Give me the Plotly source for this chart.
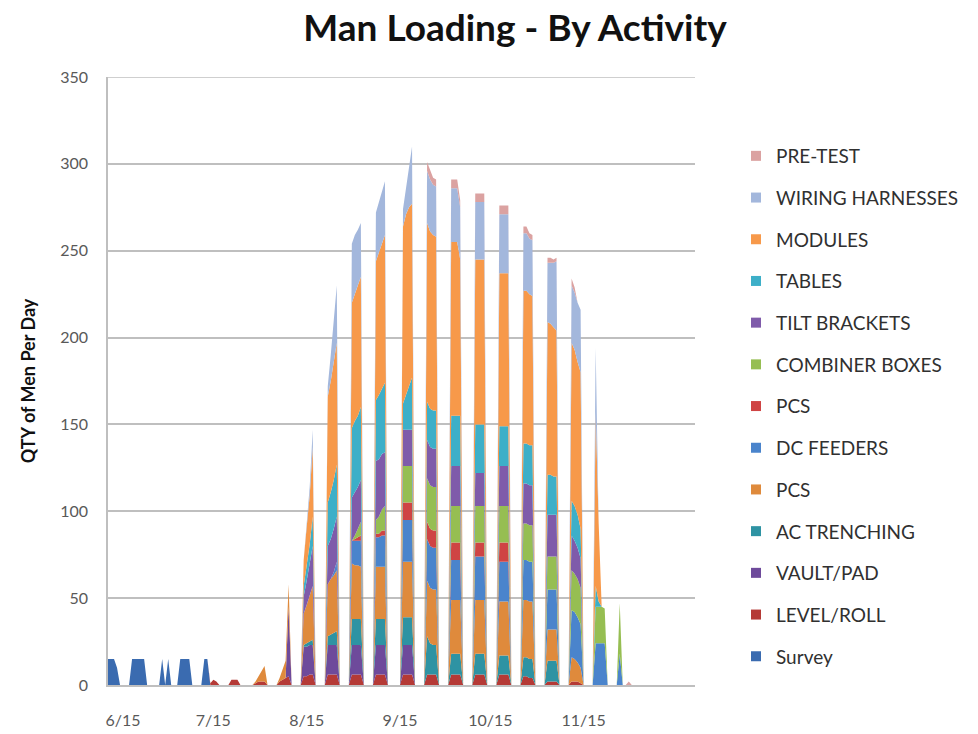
import datetime as dt
import plotly.graph_objects as go

# ---- data -------------------------------------------------------------
# work blocks: first workday and number of workdays (zero days around them)
BLOCK_START = ["2018-06-10", "2018-06-18", "2018-06-28", "2018-07-04", "2018-07-12",
               "2018-07-21", "2018-07-29", "2018-08-06", "2018-08-14", "2018-08-22",
               "2018-08-30", "2018-09-07", "2018-09-16", "2018-09-24", "2018-10-02",
               "2018-10-10", "2018-10-18", "2018-10-26", "2018-11-03", "2018-11-11",
               "2018-11-19", "2018-11-27", "2018-11-30"]
BLOCK_LEN = [4, 5, 3, 4, 5, 3, 4, 4, 4, 4, 4, 4, 4, 4, 4, 4, 4, 4, 4, 4, 4, 1, 1]

N = None
SURVEY = [[15, 15, 15, 10], [15, 15, 15, 15, 15], [15, 0, 15], [15, 15, 15, 15], [15, 15, 0, 0, 0],
          N, N, N, N, N, N, N, N, N, N, N, N, N, N, N, N, N, N]
LEVEL_ROLL = [N, N, N, N, [0, 0, 1, 3, 2], [3, 3, 3], [1, 2, 2, 2], [2, 3, 4, 5], [5, 5, 6, 6],
              [6, 6, 6, 6], [6, 6, 6, 6], [6, 6, 6, 6], [6, 6, 6, 6], [6, 6, 6, 6], [6, 6, 6, 6],
              [6, 6, 6, 6], [6, 6, 6, 6], [5, 5, 4, 4], [2, 2, 2, 2], [2, 2, 2, 1], N, N, N]
VAULT_PAD = [N, N, N, N, N, N, N, [0, 0, 0, 40], [17, 17, 17, 17], [17, 17, 17, 17],
             [17, 17, 17, 17], [17, 17, 17, 17], [17, 17, 17, 17], N, N, N, N, N, N, N, N, N, N]
AC_TRENCHING = [N, N, N, N, N, N, N, N, [1, 2, 2, 3], [5, 6, 7, 8], [15, 15, 15, 15],
                [15, 15, 15, 15], [16, 16, 16, 16], [22, 18, 17, 17], [12, 12, 12, 12],
                [12, 12, 12, 12], [11, 11, 11, 11], [11, 11, 11, 11], [12, 12, 12, 12], N, N, N, N]
PCS_1 = [N, N, N, N, N, N, [1, 3, 6, 9], [2, 6, 10, 13], [18, 22, 27, 31], [30, 32, 33, 35],
         [32, 31, 31, 30], [30, 30, 30, 30], [32, 32, 32, 32], [32, 32, 32, 32], [31, 31, 31, 31],
         [31, 31, 31, 31], [31, 31, 31, 31], [33, 33, 33, 33], [18, 18, 18, 18], [14, 13, 11, 9],
         N, N, N]
DC_FEEDERS = [N, N, N, N, N, N, N, N, N, [0, 0, 2, 5], [13, 14, 14, 15], [17, 17, 18, 18],
              [24, 24, 24, 24], [24, 24, 24, 24], [23, 23, 23, 23], [25, 25, 25, 25],
              [23, 23, 23, 23], [23, 23, 23, 23], [23, 23, 23, 23], [27, 27, 26, 25],
              [24, 24, 24, 24], [18], N]
PCS_2 = [N, N, N, N, N, N, N, N, N, N, [0, 1, 2, 3], [2, 2, 3, 3], [10, 10, 10, 10],
         [10, 10, 10, 10], [10, 10, 10, 10], [8, 8, 8, 8], [11, 11, 11, 11], N, N, N, N, N, N]
COMBINER = [N, N, N, N, N, N, N, N, N, N, [0, 2, 5, 8], [8, 10, 12, 14], [21, 21, 21, 21],
            [25, 25, 25, 25], [21, 21, 21, 21], [21, 21, 21, 21], [21, 21, 21, 21],
            [21, 21, 21, 21], [19, 19, 19, 19], [23, 22, 22, 21], [21, 21, 21, 20], [29], N]
TILT = [N, N, N, N, N, N, N, N, [10, 14, 17, 23], [22, 23, 25, 26], [25, 25, 24, 24],
        [34, 33, 32, 31], [21, 21, 21, 21], [22, 22, 22, 22], [23, 23, 23, 23], [19, 19, 19, 19],
        [23, 23, 23, 23], [23, 23, 23, 23], [24, 24, 24, 24], [20, 19, 18, 17], N, N, N]
TABLES = [N, N, N, N, N, N, N, N, [6, 9, 12, 17], [25, 27, 28, 30], [40, 41, 41, 42],
          [35, 37, 38, 40], [15, 20, 25, 30], [22, 22, 22, 22], [29, 29, 29, 29],
          [28, 28, 28, 28], [23, 23, 23, 23], [23, 23, 23, 23], [23, 23, 22, 22],
          [20, 20, 19, 17], [12, 3, 0, 0], N, N]
MODULES = [N, N, N, N, N, N, N, N, [15, 22, 28, 40], [61, 64, 67, 70], [72, 73, 74, 75],
           [80, 82, 84, 85], [102, 104, 103, 100], [103, 102, 101, 100], [100, 100, 100, 90],
           [95, 95, 95, 95], [88, 88, 88, 88], [88, 88, 87, 86], [88, 87, 86, 84],
           [91, 90, 88, 90], [100, 45, 0, 0], N, N]
WIRING = [N, N, N, N, N, N, N, N, [0, 2, 5, 10], [6, 15, 24, 33], [34, 34, 33, 31],
          [28, 29, 30, 31], [10, 15, 22, 33], [30, 30, 29, 29], [31, 31, 31, 30],
          [33, 33, 33, 33], [34, 34, 34, 34], [33, 33, 32, 32], [34, 35, 37, 40],
          [33, 33, 34, 36], [37, 0, 0, 0], N, N]
PRE_TEST = [N, N, N, N, N, N, N, N, N, N, N, N, N, [5, 5, 4, 4], [5, 5, 5, 4], [5, 5, 5, 5],
            [5, 5, 5, 5], [4, 4, 3, 3], [3, 3, 2, 2], [4, 3, 0, 0], N, N, [2]]

# bottom -> top stacking order
SERIES = [("Survey", SURVEY, "#3A6BB0"),
          ("LEVEL/ROLL", LEVEL_ROLL, "#B53A36"),
          ("VAULT/PAD", VAULT_PAD, "#6E4A9B"),
          ("AC TRENCHING", AC_TRENCHING, "#2E93A3"),
          ("PCS", PCS_1, "#DF8A3C"),
          ("DC FEEDERS", DC_FEEDERS, "#4A84CC"),
          ("PCS ", PCS_2, "#CF4444"),
          ("COMBINER BOXES", COMBINER, "#96BE52"),
          ("TILT BRACKETS", TILT, "#7F5BAA"),
          ("TABLES", TABLES, "#3DAFC8"),
          ("MODULES", MODULES, "#F7994A"),
          ("WIRING HARNESSES", WIRING, "#A3B7DC"),
          ("PRE-TEST", PRE_TEST, "#DBA2A1")]

TICK_DATES = ["2018-06-15", "2018-07-15", "2018-08-15", "2018-09-15", "2018-10-15", "2018-11-15"]
TICK_TEXT = ["6/15", "7/15", "8/15", "9/15", "10/15", "11/15"]

# ---- build a shared daily grid: zero day, workdays, zero day ----------
one = dt.timedelta(days=1)
grid = set()
for s, n in zip(BLOCK_START, BLOCK_LEN):
    d0 = dt.date.fromisoformat(s)
    for i in range(-1, n + 1):
        grid.add(d0 + i * one)
grid = sorted(grid)
pos = {d: i for i, d in enumerate(grid)}


def series_values(blocks):
    ys = [0] * len(grid)
    for s, n, vals in zip(BLOCK_START, BLOCK_LEN, blocks):
        if vals is None:
            continue
        d0 = dt.date.fromisoformat(s)
        for i, v in enumerate(vals):
            ys[pos[d0 + i * one]] = v
    return ys


fig = go.Figure()
xs = [d.isoformat() for d in grid]
for name, blocks, color in SERIES:
    fig.add_trace(go.Scatter(
        x=xs, y=series_values(blocks), name=name, stackgroup="one",
        mode="lines", line=dict(width=0, color=color), fillcolor=color,
        showlegend=False))

# legend entries (square swatches), top entry first
for k, (name, blocks, color) in enumerate(reversed(SERIES)):
    fig.add_trace(go.Scatter(
        x=[None], y=[None], mode="markers", name=name.strip(),
        marker=dict(symbol="square", size=10, color=color),
        legendgroup=f"g{k}", showlegend=True))

W, H = 978, 734
font_fam = "Lato, 'Open Sans', Arial, sans-serif"
fig.update_layout(
    width=W, height=H,
    margin=dict(l=108, r=283, t=77, b=49, autoexpand=False),
    paper_bgcolor="white", plot_bgcolor="white",
    title=dict(text="<b>Man Loading - By Activity</b>", x=515 / W, xanchor="center",
               y=1 - 28 / H, yanchor="middle", font=dict(family=font_fam, size=37, color="#111111")),
    font=dict(family=font_fam, color="#595959"),
    showlegend=True,
    legend=dict(xref="container", yref="container", x=736 / W, y=1 - 137 / H,
                xanchor="left", yanchor="top", traceorder="grouped",
                tracegroupgap=14, font=dict(size=19, color="#303030"),
                itemwidth=30, maxheight=720, bgcolor="rgba(0,0,0,0)"),
    xaxis=dict(type="date", range=["2018-06-10", "2018-12-22"], automargin=False,
               tickvals=TICK_DATES, ticktext=TICK_TEXT, showgrid=False,
               showline=True, linecolor="#BFBFBF", linewidth=1.5,
               tickfont=dict(size=16, color="#595959"), ticks="outside", ticklen=20,
               tickcolor="rgba(0,0,0,0)", zeroline=False),
    yaxis=dict(range=[0, 350], dtick=50, showgrid=True, gridcolor="#BFBFBF", gridwidth=1.5,
               showline=True, linecolor="#BFBFBF", linewidth=1.5, zeroline=False, automargin=False,
               tickfont=dict(size=16, color="#595959"), ticks="outside", ticklen=15,
               tickcolor="rgba(0,0,0,0)",
               title=dict(text="<b>QTY of Men Per Day</b>", standoff=20,
                          font=dict(size=18, color="#111111"))),
    shapes=[dict(type="line", xref="paper", yref="y", x0=0, x1=1, y0=350, y1=350,
                 line=dict(color="#BFBFBF", width=1.5), layer="below")],
)

fig.write_html("out.html", config={"displayModeBar": False},
               post_script="document.body.style.margin='0';document.body.style.overflow='hidden';")
